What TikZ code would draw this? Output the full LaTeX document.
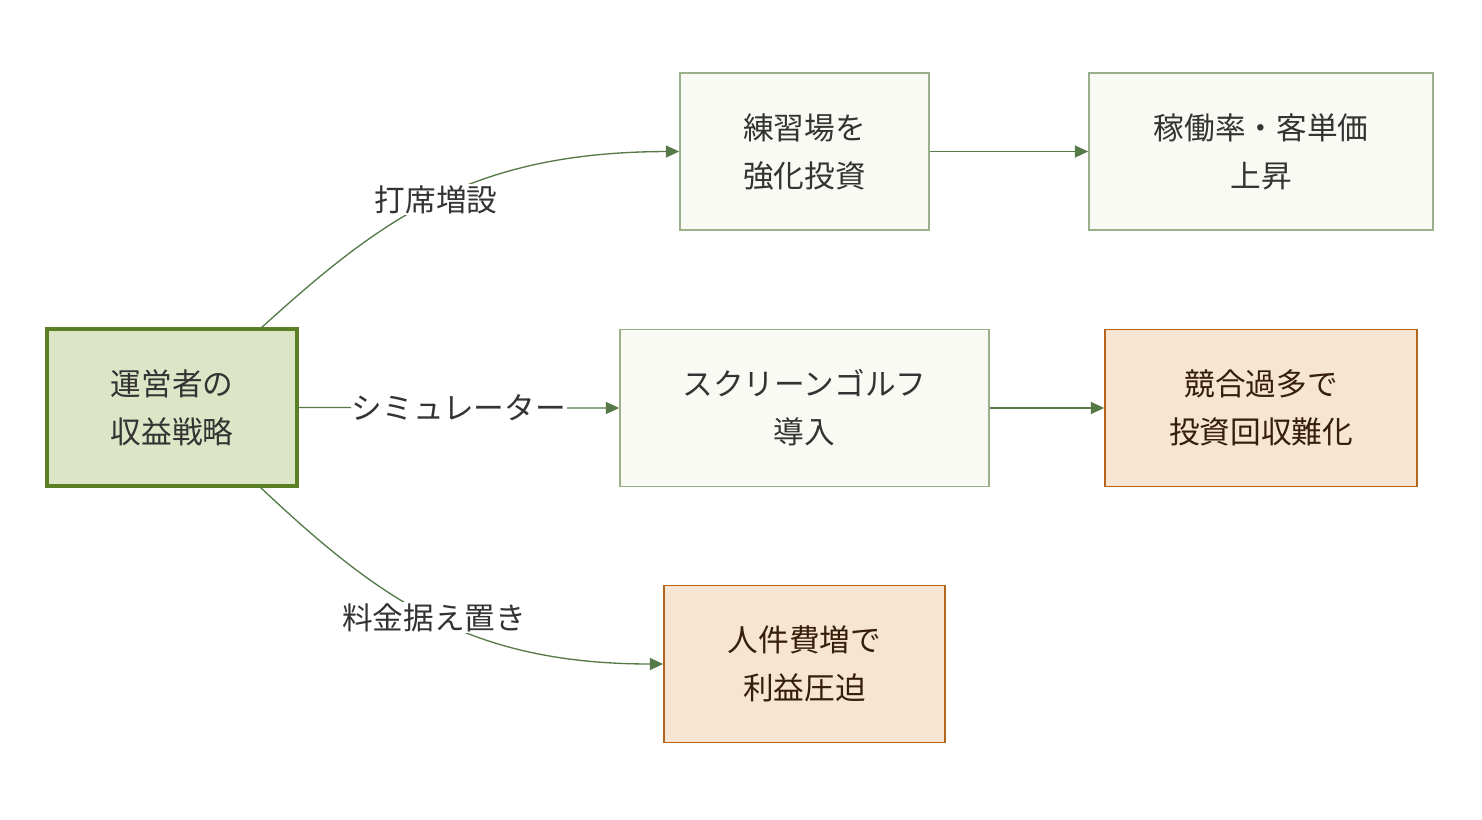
\documentclass[tikz,border=0pt]{standalone}
\usepackage{fontspec}
\setmainfont{Noto Sans CJK JP}
\usetikzlibrary{arrows.meta}
\definecolor{gfill}{HTML}{DCE6C7}
\definecolor{gdraw}{HTML}{5A7F24}
\definecolor{lfill}{HTML}{F8FAF3}
\definecolor{ldraw}{HTML}{9AB08A}
\definecolor{ofill}{HTML}{F7E5D2}
\definecolor{odraw}{HTML}{B5651D}
\definecolor{edge}{HTML}{557A48}
\definecolor{txt}{HTML}{333333}
\begin{document}
\begin{tikzpicture}[x=0.75pt,y=-0.75pt,
  box/.style={draw, line width=1.2pt, minimum height=117.75pt, align=center, inner sep=0pt,
    font=\fontsize{23}{36}\selectfont, text=txt},
  main/.style={box, fill=gfill, draw=gdraw, line width=2.5pt},
  light/.style={box, fill=lfill, draw=ldraw},
  warn/.style={box, fill=ofill, draw=odraw, text=black!70!odraw},
  ed/.style={draw=edge, line width=1pt, -{Triangle[length=10pt,width=9pt]}},
  lab/.style={fill=white, inner sep=1pt, font=\fontsize{23}{28}\selectfont, text=txt}]
\useasboundingbox (0,0) rectangle (1482,820);
\node[main, minimum width=187.5pt] (A) at (172,407.5) {運営者の\\収益戦略};
\node[light, minimum width=186.75pt] (B) at (804.5,151.5) {練習場を\\強化投資};
\node[light, minimum width=258pt] (C) at (1261,151.5) {稼働率・客単価\\上昇};
\node[light, minimum width=276.75pt] (D) at (804.5,408) {スクリーンゴルフ\\導入};
\node[warn, minimum width=234pt] (E) at (1261,408) {競合過多で\\投資回収難化};
\node[warn, minimum width=210.75pt] (F) at (804.5,664) {人件費増で\\利益圧迫};
\coordinate (a1) at (260,329);
\coordinate (a2) at (260,487);
\draw[ed] (a1) .. controls (380,220) and (470,152) .. (B.west)
  node[lab, pos=0.5] {打席増設};
\draw[ed] (A.east) -- node[lab] {シミュレーター} (D.west);
\draw[ed] (a2) .. controls (380,600) and (470,664) .. (F.west)
  node[lab, pos=0.5] {料金据え置き};
\draw[ed] (B) -- (C);
\draw[ed] (D) -- (E);
\end{tikzpicture}
\end{document}
